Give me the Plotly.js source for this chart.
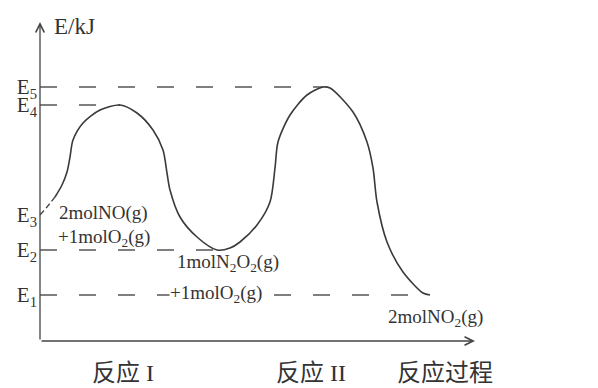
<!DOCTYPE html>
<html><head><meta charset="utf-8">
<script src="https://cdn.plot.ly/plotly-3.0.1.min.js"></script>
<style>html,body{margin:0;padding:0;background:#fff;}#chart{width:598px;height:388px;}</style>
</head><body><div id="chart"></div>
<script>
// Energy levels (arbitrary units)
const levelNames = ['E<sub>1</sub>','E<sub>2</sub>','E<sub>3</sub>','E<sub>4</sub>','E<sub>5</sub>'];
const levelValues = [46, 91, 126, 236, 254];
const dashedLevelIdx = [0, 1, 3, 4];

// Reaction coordinate curve (dashed start, then solid)
const startX = [0, 7, 15];
const startY = [126, 134, 144];
const curveX = [15, 22, 27, 30, 33, 43, 60, 80, 97, 113, 123, 127, 130, 140, 157, 177, 190, 200, 217, 230, 235, 238, 250, 267, 283, 290, 313, 327, 333, 337, 347, 363, 383, 390];
const curveY = [144, 156, 169, 184, 201, 218, 231, 236, 228, 211, 191, 168, 151, 124, 104, 91, 93, 99, 116, 139, 173, 199, 226, 246, 254, 253, 229, 199, 173, 139, 99, 69, 48, 46];

// Texts
const speciesTexts = ['2molNO(g)', '+1molO<sub>2</sub>(g)', '1molN<sub>2</sub>O<sub>2</sub>(g)', '+1molO<sub>2</sub>(g)', '2molNO<sub>2</sub>(g)'];
const speciesX = [18, 17, 136, 129, 347];
const speciesY = [128, 103, 78, 47, 23];
const reactionLabels = ['反应 I', '反应 II', '反应过程'];
const reactionX = [83, 271, 405];
const axisTitle = 'E/kJ';
const xAxisEnd = 435, yAxisEnd = 319;

const serif = '"Liberation Serif", "Times New Roman", "Noto Sans CJK SC", serif';
const ink = '#333333';

// end of each dashed level line: the curve point closest to that level
function endX(v){
  let best = 0, bd = 1e9;
  for (let i = 0; i < curveY.length; i++){ const d = Math.abs(curveY[i]-v); if (d < bd){bd = d; best = curveX[i];} }
  return best;
}

const traces = [];
dashedLevelIdx.forEach(i => {
  traces.push({x:[0, endX(levelValues[i])], y:[levelValues[i], levelValues[i]], mode:'lines',
    line:{color:'#555', width:1.4, dash:'17px,22px'}, hoverinfo:'skip', showlegend:false});
});
traces.push({x:startX, y:startY, mode:'lines', line:{color:'#444', width:1.3, dash:'6px,3px', shape:'spline'}, hoverinfo:'skip', showlegend:false});
traces.push({x:curveX, y:curveY, mode:'lines', line:{color:'#3a3a3a', width:1.6, shape:'spline', smoothing:0.8}, hoverinfo:'skip', showlegend:false});

const annotations = [];
// axes with arrows
annotations.push({x:0, y:yAxisEnd, ax:0, ay:0, axref:'x', ayref:'y', xref:'x', yref:'y', text:'', showarrow:true, arrowhead:5, arrowsize:1.3, arrowwidth:1.3, arrowcolor:'#444'});
annotations.push({x:xAxisEnd, y:0, ax:0, ay:0, axref:'x', ayref:'y', xref:'x', yref:'y', text:'', showarrow:true, arrowhead:5, arrowsize:1.3, arrowwidth:1.3, arrowcolor:'#444'});
annotations.push({x:12, y:315, xref:'x', yref:'y', text:axisTitle, showarrow:false, xanchor:'left', yanchor:'middle', font:{family:serif, size:23, color:ink}});
speciesTexts.forEach((t, i) => {
  annotations.push({x:speciesX[i], y:speciesY[i], xref:'x', yref:'y', text:t, showarrow:false, xanchor:'left', yanchor:'middle',
    bgcolor: i === 3 ? '#ffffff' : 'rgba(0,0,0,0)', borderpad:0,
    font:{family:serif, size:19, color:ink}});
});
reactionLabels.forEach((t, i) => {
  annotations.push({x:reactionX[i], y:0, yshift:-30, xref:'x', yref:'paper', text:t, showarrow:false, xanchor:'center', yanchor:'middle',
    font:{family:serif, size:24, color:ink}});
});

const layout = {
  width:598, height:388,
  margin:{l:38, r:0, t:0, b:45},
  paper_bgcolor:'#fff', plot_bgcolor:'#fff',
  showlegend:false,
  xaxis:{range:[-2, 558], showgrid:false, zeroline:false, showline:false, showticklabels:false, ticks:''},
  yaxis:{range:[-2, 341], showgrid:false, zeroline:false, showline:false, ticks:'',
    tickmode:'array', tickvals:levelValues, ticktext:levelNames,
    tickfont:{family:serif, size:21, color:ink}},
  annotations: annotations
};
Plotly.newPlot('chart', traces, layout, {staticPlot:true, displayModeBar:false});
</script>
</body></html>
